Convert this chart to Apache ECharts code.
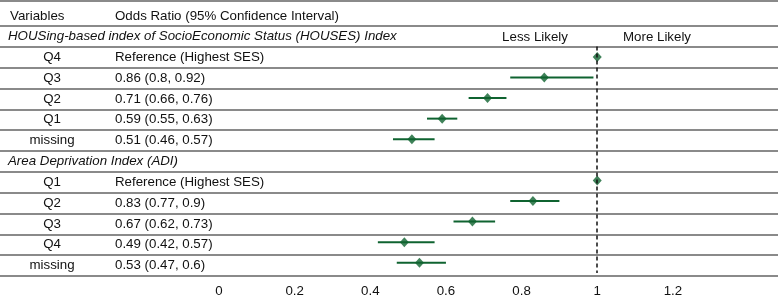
<!DOCTYPE html>
<html>
<head>
<meta charset="utf-8">
<script src="https://cdn.jsdelivr.net/npm/echarts@6/dist/echarts.min.js"></script>
<style>
  html, body { margin: 0; padding: 0; background: #fff; }
  #main { width: 778px; height: 298px; }
</style>
</head>
<body>
<div id="main"></div>
<script>
// rows of the table, top to bottom
var groupTitles = ['HOUSing-based index of SocioEconomic Status (HOUSES) Index', '', '', '', '', '',
                   'Area Deprivation Index (ADI)', '', '', '', '', ''];
var variables = ['', 'Q4', 'Q3', 'Q2', 'Q1', 'missing', '', 'Q1', 'Q2', 'Q3', 'Q4', 'missing'];
var orText = ['', 'Reference (Highest SES)', '0.86 (0.8, 0.92)', '0.71 (0.66, 0.76)', '0.59 (0.55, 0.63)', '0.51 (0.46, 0.57)',
              '', 'Reference (Highest SES)', '0.83 (0.77, 0.9)', '0.67 (0.62, 0.73)', '0.49 (0.42, 0.57)', '0.53 (0.47, 0.6)'];
// plotted estimates and interval ends (as drawn)
var orValue = [null, 1, 0.86, 0.71, 0.59, 0.51, null, 1, 0.83, 0.67, 0.49, 0.53];
var ciLow  = [null, null, 0.77, 0.66, 0.55, 0.46, null, null, 0.77, 0.62, 0.42, 0.47];
var ciHigh = [null, null, 0.99, 0.76, 0.63, 0.57, null, null, 0.90, 0.73, 0.57, 0.60];
var xTicks = [0, 0.2, 0.4, 0.6, 0.8, 1, 1.2];

var FONT = '"Liberation Sans", Arial, sans-serif';
var FS = 13.3;
var TXT = '#111';
var GREEN = '#0f6330';
var ROWLINE = '#8a8a8a';
var nRows = variables.length;

var pts = [], cis = [];
for (var i = 0; i < nRows; i++) {
  if (orValue[i] != null) pts.push([orValue[i], i + 0.5]);
  if (ciLow[i] != null) cis.push([ciLow[i], ciHigh[i], i + 0.5]);
}

var chart = echarts.init(document.getElementById('main'));

var rowAxis = function (grid, lines) {
  return {
    type: 'value', gridIndex: grid, position: 'left', min: 0, max: nRows, interval: 1, inverse: true,
    axisLine: {show: false}, axisTick: {show: false}, axisLabel: {show: false},
    splitLine: {show: lines, lineStyle: {color: ROWLINE, width: 2}}
  };
};
var labelAxis = function (data, margin, align, extra) {
  var lab = {inside: true, margin: margin, align: align, fontFamily: FONT, fontSize: FS, color: TXT};
  for (var k in extra) lab[k] = extra[k];
  return {
    type: 'category', gridIndex: 0, position: 'left', inverse: true, data: data,
    axisLine: {show: false}, axisTick: {show: false}, splitLine: {show: false},
    axisLabel: lab
  };
};

var option = {
  animation: false,
  textStyle: {fontFamily: FONT},
  grid: [
    {left: 0, width: 219, top: 26, bottom: 22},
    {left: 219, right: 0, top: 26, bottom: 22},
    {left: 0, right: 0, top: 26, bottom: 22}
  ],
  xAxis: [
    {type: 'value', gridIndex: 0, min: 0, max: 1, show: false},
    {
      type: 'value', gridIndex: 1, min: 0, max: 1.47, interval: 0.2,
      axisLine: {show: false}, axisTick: {show: false}, splitLine: {show: false},
      axisLabel: {
        margin: 12, fontFamily: FONT, fontSize: FS, color: TXT,
        formatter: function (v) {
          for (var j = 0; j < xTicks.length; j++) if (Math.abs(xTicks[j] - v) < 1e-6) return String(xTicks[j]);
          return '';
        }
      }
    },
    {type: 'value', gridIndex: 2, min: 0, max: 1, show: false}
  ],
  yAxis: [
    rowAxis(0, false),
    labelAxis(variables, 52, 'center', {}),
    labelAxis(orText, 115, 'left', {}),
    labelAxis(groupTitles, 8, 'left', {fontStyle: 'italic'}),
    rowAxis(1, false),
    rowAxis(2, true)
  ],
  graphic: [
    {type: 'line', shape: {x1: 0, y1: 1, x2: 778, y2: 1}, style: {stroke: ROWLINE, lineWidth: 2}},
    {type: 'text', x: 10, y: 16, style: {text: 'Variables', font: FS + 'px ' + FONT, fill: TXT, verticalAlign: 'middle'}},
    {type: 'text', x: 115, y: 16, style: {text: 'Odds Ratio (95% Confidence Interval)', font: FS + 'px ' + FONT, fill: TXT, verticalAlign: 'middle'}},
    {type: 'text', x: 535, y: 37, style: {text: 'Less Likely', font: FS + 'px ' + FONT, fill: TXT, align: 'center', verticalAlign: 'middle'}},
    {type: 'text', x: 657, y: 37, style: {text: 'More Likely', font: FS + 'px ' + FONT, fill: TXT, align: 'center', verticalAlign: 'middle'}}
  ],
  series: [
    {
      type: 'custom', xAxisIndex: 1, yAxisIndex: 4, data: cis,
      encode: {x: [0, 1], y: 2},
      renderItem: function (params, api) {
        var a = api.coord([api.value(0), api.value(2)]);
        var b = api.coord([api.value(1), api.value(2)]);
        return {type: 'line', shape: {x1: a[0], y1: a[1], x2: b[0], y2: b[1]},
                style: {stroke: GREEN, lineWidth: 2}};
      },
      silent: true
    },
    {
      type: 'scatter', xAxisIndex: 1, yAxisIndex: 4, data: pts,
      symbol: 'diamond', symbolSize: [9, 10],
      itemStyle: {color: GREEN},
      silent: true,
      markLine: {
        silent: true, symbol: 'none', label: {show: false},
        lineStyle: {color: '#111', width: 1.5, type: [4, 3]},
        data: [[{coord: [1, 1]}, {coord: [1, nRows]}]]
      }
    }
  ]
};
chart.setOption(option);
</script>
</body>
</html>
